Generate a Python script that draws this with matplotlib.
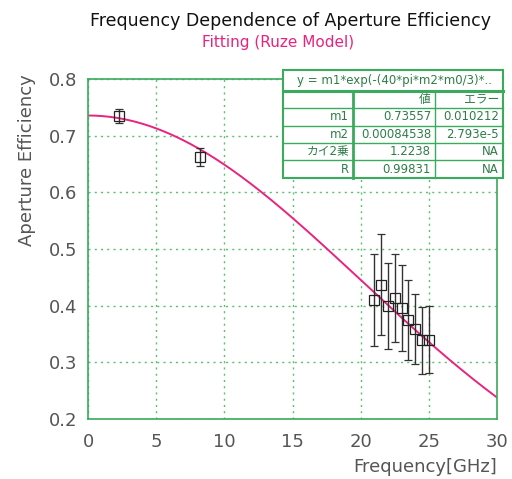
import numpy as np
import matplotlib
matplotlib.use("Agg")
import matplotlib.pyplot as plt
from matplotlib.patches import Rectangle
from matplotlib.lines import Line2D

plt.rcParams['font.family'] = ['DejaVu Sans', 'Noto Sans CJK JP']

# --- datos medidos ---
freq = [2.3, 8.2, 21.0, 21.5, 22.0, 22.5, 23.0, 23.5, 24.0, 24.5, 25.0]
eff = [0.735, 0.663, 0.410, 0.437, 0.400, 0.414, 0.396, 0.375, 0.359, 0.339, 0.340]
err = [0.012, 0.016, 0.082, 0.089, 0.076, 0.078, 0.076, 0.070, 0.062, 0.059, 0.059]

# --- parametros del ajuste (modelo de Ruze) ---
m1 = 0.73557
m2 = 0.00084538
tabla_filas = ["m1", "m2", "カイ2乗", "R"]
tabla_valor = ["0.73557", "0.00084538", "1.2238", "0.99831"]
tabla_error = ["0.010212", "2.793e-5", "NA", "NA"]

GREEN = "#3aaa5c"
GRID = "#5cc070"
PINK = "#e8247e"

fig = plt.figure(figsize=(5.12, 4.79), dpi=100)
W, H = 512, 479
ax = fig.add_axes([88 / W, 1 - 419 / H, 409 / W, 340 / H])

f = np.linspace(0, 30, 300)
ax.plot(f, m1 * np.exp(-(40 * np.pi * m2 * f / 3) ** 2), color=PINK, lw=1.4, zorder=2)
ax.errorbar(freq, eff, yerr=err, fmt='s', ms=6.5, mfc='none', mec='#222222',
            mew=0.9, ecolor='#333333', elinewidth=1.0, capsize=3, zorder=3)

ax.set_xlim(0, 30)
ax.set_ylim(0.2, 0.8)
ax.set_xticks(range(0, 31, 5))
ax.set_yticks([0.2, 0.3, 0.4, 0.5, 0.6, 0.7, 0.8])
ax.set_yticklabels(["0.2", "0.3", "0.4", "0.5", "0.6", "0.7", "0.8"])
ax.grid(True, color=GRID, ls=(0, (1.5, 3)), lw=1.0)
for s in ax.spines.values():
    s.set_color(GREEN)
    s.set_linewidth(1.2)
ax.tick_params(colors='#555555', labelsize=13, length=0, pad=8)
ax.tick_params(axis='x', pad=10)

fig.text(497 / W, 1 - 467 / H, "Frequency[GHz]", ha='right', va='center',
         fontsize=13, color='#555555')
fig.text(27 / W, 1 - 160 / H, "Aperture Efficiency", rotation=90, ha='center',
         va='center', fontsize=13, color='#555555')

fig.text(290 / W, 1 - 21 / H, "Frequency Dependence of Aperture Efficiency",
         ha='center', va='center', fontsize=12.5, color='#111111')
fig.text(278 / W, 1 - 43 / H, "Fitting (Ruze Model)", ha='center', va='center',
         fontsize=11, color=PINK)


# --- tabla de resultados (coordenadas en pixeles) ---
def fx(x):
    return x / W


def fy(y):
    return 1 - y / H


left, right, top, bottom = 283, 503, 70, 178
col1, col2 = 353, 435
rows = [91, 108, 126, 143, 160, 178]
fig.add_artist(Rectangle((fx(left), fy(bottom)), (right - left) / W, (bottom - top) / H,
                         transform=fig.transFigure, facecolor='white',
                         edgecolor=GREEN, lw=1.5, zorder=5))
fig.add_artist(Line2D([fx(left), fx(right)], [fy(rows[0]), fy(rows[0])],
                      transform=fig.transFigure, color=GREEN, lw=2.2, zorder=6))
for r in rows[1:-1]:
    fig.add_artist(Line2D([fx(left), fx(right)], [fy(r), fy(r)],
                          transform=fig.transFigure, color=GREEN, lw=1.0, zorder=6))
for c, lw in [(col1, 2.0), (col2, 1.0)]:
    fig.add_artist(Line2D([fx(c), fx(c)], [fy(rows[0]), fy(bottom)],
                          transform=fig.transFigure, color=GREEN, lw=lw, zorder=6))

TXT = "#2e7d48"
fig.text(fx(left + 14), fy((top + rows[0]) / 2), "y = m1*exp(-(40*pi*m2*m0/3)*..",
         ha='left', va='center', fontsize=8.5, color=TXT, zorder=7)
fig.text(fx(col2 - 4), fy((rows[0] + rows[1]) / 2), "値", ha='right', va='center',
         fontsize=8.5, color=TXT, zorder=7)
fig.text(fx(right - 4), fy((rows[0] + rows[1]) / 2), "エラー", ha='right', va='center',
         fontsize=8.5, color=TXT, zorder=7)
for i in range(4):
    yc = fy((rows[i + 1] + rows[i + 2]) / 2)
    fig.text(fx(col1 - 4), yc, tabla_filas[i], ha='right', va='center',
             fontsize=8.5, color=TXT, zorder=7)
    fig.text(fx(col2 - 4), yc, tabla_valor[i], ha='right', va='center',
             fontsize=8.5, color=TXT, zorder=7)
    fig.text(fx(right - 4), yc, tabla_error[i], ha='right', va='center',
             fontsize=8.5, color=TXT, zorder=7)

fig.savefig("out.png", dpi=100)
